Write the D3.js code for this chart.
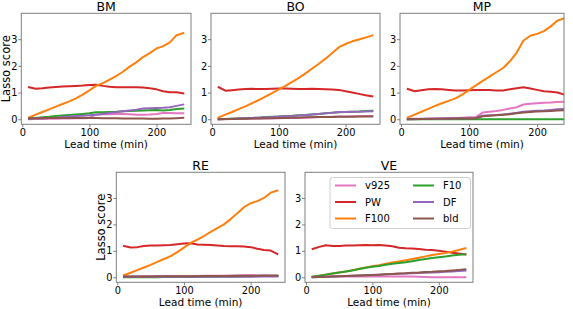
<!DOCTYPE html>
<html><head><meta charset="utf-8">
<script src="https://cdn.jsdelivr.net/npm/d3@7"></script>
<style>body{margin:0;background:#fff}svg{display:block}text{font-family:"DejaVu Sans",sans-serif}</style>
</head><body><svg id="c" width="573" height="309"></svg>
<script>
const leadTimes = [10,20,30,40,50,60,70,80,90,100,110,120,130,140,150,160,170,180,190,200,210,220,230,240];
const seriesNames = ["v925","PW","F100","F10","DF","bld"];
const seriesColors = ["#e377c2","#d62728","#ff7f0e","#2ca02c","#9467bd","#8c564b"];
const panelNames = ["BM","BO","MP","RE","VE"];
const xTicks = [0,100,200];
const yTicks = [0,1,2,3];

const BM_v925 = [0.00,0.01,0.01,0.02,0.02,0.03,0.03,0.04,0.04,0.05,0.18,0.19,0.19,0.20,0.20,0.19,0.17,0.17,0.18,0.20,0.23,0.23,0.22,0.22];
const BM_PW   = [1.20,1.14,1.16,1.19,1.21,1.23,1.24,1.25,1.26,1.28,1.29,1.25,1.22,1.20,1.20,1.20,1.20,1.19,1.16,1.12,1.05,1.01,1.01,0.97];
const BM_F100 = [0.07,0.17,0.27,0.37,0.47,0.57,0.67,0.78,0.92,1.08,1.25,1.35,1.48,1.62,1.78,1.97,2.13,2.33,2.48,2.65,2.74,2.88,3.15,3.23];
const BM_F10  = [0.03,0.05,0.07,0.09,0.12,0.14,0.16,0.18,0.20,0.22,0.26,0.26,0.27,0.28,0.30,0.31,0.32,0.33,0.34,0.35,0.33,0.35,0.38,0.40];
const BM_DF   = [0.02,0.03,0.04,0.05,0.06,0.08,0.10,0.12,0.13,0.15,0.17,0.20,0.23,0.26,0.30,0.33,0.36,0.40,0.41,0.42,0.43,0.45,0.50,0.55];
const BM_bld  = [0.03,0.04,0.04,0.05,0.05,0.05,0.05,0.05,0.05,0.05,0.05,0.04,0.04,0.04,0.03,0.03,0.03,0.03,0.02,0.02,0.03,0.03,0.04,0.05];

const BO_v925 = [0.00,0.00,0.01,0.01,0.02,0.02,0.03,0.03,0.04,0.04,0.05,0.05,0.06,0.06,0.07,0.08,0.08,0.09,0.10,0.10,0.11,0.11,0.12,0.12];
const BO_PW   = [1.20,1.07,1.09,1.11,1.13,1.14,1.13,1.13,1.14,1.15,1.15,1.14,1.13,1.13,1.14,1.13,1.12,1.11,1.10,1.05,1.00,0.95,0.90,0.86];
const BO_F100 = [0.07,0.17,0.27,0.38,0.48,0.60,0.72,0.85,0.98,1.12,1.25,1.40,1.55,1.72,1.90,2.08,2.27,2.48,2.70,2.82,2.92,2.99,3.06,3.14];
const BO_F10  = [0.00,0.01,0.02,0.03,0.04,0.05,0.06,0.08,0.09,0.10,0.12,0.13,0.15,0.16,0.18,0.20,0.22,0.24,0.26,0.27,0.28,0.29,0.31,0.32];
const BO_DF   = [0.00,0.01,0.02,0.03,0.04,0.05,0.06,0.07,0.08,0.10,0.11,0.12,0.14,0.16,0.18,0.20,0.22,0.24,0.27,0.27,0.28,0.28,0.29,0.30];
const BO_bld  = [0.00,0.01,0.01,0.02,0.02,0.03,0.03,0.04,0.04,0.05,0.05,0.06,0.06,0.07,0.07,0.08,0.08,0.08,0.09,0.09,0.09,0.10,0.10,0.10];

const MP_v925 = [0.01,0.02,0.02,0.03,0.03,0.04,0.05,0.05,0.06,0.07,0.08,0.25,0.28,0.31,0.35,0.40,0.45,0.55,0.58,0.60,0.62,0.63,0.65,0.66];
const MP_PW   = [1.13,1.05,1.09,1.12,1.13,1.12,1.10,1.08,1.08,1.09,1.10,1.10,1.10,1.08,1.08,1.12,1.16,1.20,1.15,1.10,1.05,1.03,1.00,0.92];
const MP_F100 = [0.07,0.17,0.28,0.39,0.50,0.60,0.69,0.78,0.92,1.10,1.27,1.44,1.60,1.76,1.92,2.17,2.50,2.95,3.13,3.20,3.30,3.48,3.70,3.78];
const MP_F10  = [0.00,0.00,0.00,0.00,0.00,0.00,0.00,0.00,0.00,0.00,0.00,0.00,0.00,0.00,0.00,0.00,0.00,0.00,0.00,0.00,0.00,0.00,0.00,0.00];
const MP_DF   = [0.00,0.01,0.01,0.02,0.02,0.02,0.03,0.03,0.04,0.04,0.05,0.13,0.15,0.16,0.18,0.21,0.24,0.28,0.30,0.32,0.33,0.35,0.37,0.38];
const MP_bld  = [0.00,0.00,0.01,0.01,0.02,0.02,0.02,0.03,0.03,0.03,0.04,0.11,0.13,0.15,0.17,0.19,0.22,0.25,0.27,0.29,0.30,0.31,0.33,0.34];

const RE_v925 = [0.03,0.03,0.03,0.04,0.04,0.04,0.04,0.05,0.05,0.05,0.05,0.05,0.06,0.06,0.06,0.06,0.07,0.07,0.08,0.08,0.07,0.07,0.06,0.06];
const RE_PW   = [1.18,1.13,1.14,1.18,1.20,1.20,1.21,1.22,1.25,1.28,1.29,1.24,1.23,1.22,1.20,1.18,1.17,1.17,1.16,1.14,1.08,1.03,1.01,0.88];
const RE_F100 = [0.08,0.17,0.27,0.37,0.47,0.58,0.69,0.80,0.95,1.12,1.30,1.42,1.56,1.72,1.86,2.00,2.20,2.42,2.65,2.80,2.88,3.00,3.20,3.28];
const RE_F10  = [0.00,0.00,0.00,0.00,0.00,0.00,0.01,0.01,0.01,0.01,0.01,0.02,0.02,0.02,0.02,0.03,0.03,0.03,0.04,0.04,0.04,0.05,0.05,0.05];
const RE_DF   = [0.02,0.02,0.02,0.02,0.02,0.02,0.02,0.02,0.02,0.02,0.02,0.02,0.02,0.02,0.02,0.02,0.02,0.02,0.02,0.02,0.03,0.03,0.03,0.03];
const RE_bld  = [0.03,0.03,0.03,0.03,0.03,0.04,0.04,0.04,0.04,0.04,0.04,0.04,0.05,0.05,0.05,0.05,0.05,0.06,0.06,0.06,0.06,0.07,0.07,0.07];

const VE_v925 = [0.02,0.02,0.02,0.03,0.03,0.03,0.03,0.03,0.03,0.03,0.03,0.03,0.03,0.03,0.03,0.03,0.02,0.01,0.00,0.00,0.00,0.00,0.00,0.00];
const VE_PW   = [1.07,1.15,1.21,1.18,1.18,1.20,1.20,1.21,1.22,1.21,1.22,1.20,1.17,1.12,1.10,1.09,1.07,1.04,1.03,1.00,0.97,0.93,0.90,0.87];
const VE_F100 = [0.02,0.06,0.10,0.14,0.18,0.22,0.27,0.32,0.37,0.42,0.46,0.51,0.56,0.60,0.64,0.69,0.74,0.79,0.84,0.88,0.92,0.97,1.03,1.10];
const VE_F10  = [0.02,0.06,0.10,0.14,0.18,0.22,0.26,0.31,0.36,0.40,0.43,0.47,0.51,0.54,0.57,0.61,0.65,0.69,0.73,0.76,0.79,0.82,0.85,0.87];
const VE_DF   = [0.00,0.01,0.02,0.03,0.04,0.05,0.06,0.07,0.08,0.09,0.10,0.11,0.12,0.13,0.14,0.15,0.16,0.17,0.18,0.19,0.21,0.22,0.24,0.25];
const VE_bld  = [0.00,0.01,0.02,0.03,0.04,0.05,0.06,0.07,0.08,0.09,0.10,0.11,0.12,0.14,0.15,0.17,0.18,0.20,0.21,0.23,0.24,0.26,0.28,0.30];

const panelData = {
  BM:[BM_v925,BM_PW,BM_F100,BM_F10,BM_DF,BM_bld],
  BO:[BO_v925,BO_PW,BO_F100,BO_F10,BO_DF,BO_bld],
  MP:[MP_v925,MP_PW,MP_F100,MP_F10,MP_DF,MP_bld],
  RE:[RE_v925,RE_PW,RE_F100,RE_F10,RE_DF,RE_bld],
  VE:[VE_v925,VE_PW,VE_F100,VE_F10,VE_DF,VE_bld]
};

const layout = {
  BM:{x0:21.3,x1:191,y0:13.3,y1:124.3,xmax:251.5,ylabel:true},
  BO:{x0:211,x1:380,y0:13.3,y1:124.3,xmax:251.5,ylabel:false},
  MP:{x0:400,x1:564,y0:13.3,y1:124.3,xmax:239.5,ylabel:false},
  RE:{x0:116.3,x1:285,y0:172.3,y1:282.3,xmax:251.5,ylabel:true},
  VE:{x0:305,x1:473,y0:172.3,y1:282.3,xmax:251.5,ylabel:false}
};

const svg = d3.select("#c");
const spineColor = "#7f7f7f";

panelNames.forEach(name => {
  const L = layout[name];
  const x = d3.scaleLinear().domain([-1.5, L.xmax]).range([L.x0, L.x1]);
  const y = d3.scaleLinear().domain([-0.19, 3.97]).range([L.y1, L.y0]);
  const g = svg.append("g");

  const clipId = "clip"+name;
  g.append("clipPath").attr("id",clipId).append("rect")
    .attr("x",L.x0).attr("y",L.y0).attr("width",L.x1-L.x0).attr("height",L.y1-L.y0);

  const line = d3.line().x((d,i)=>x(leadTimes[i])).y(d=>y(d));
  const lg = g.append("g").attr("clip-path",`url(#${clipId})`);
  panelData[name].forEach((vals,si)=>{
    lg.append("path").datum(vals).attr("d",line)
      .attr("fill","none").attr("stroke",seriesColors[si])
      .attr("stroke-width",2).attr("stroke-linejoin","round").attr("stroke-linecap","square");
  });

  const xa = g.append("g").attr("transform",`translate(0,${L.y1})`)
    .call(d3.axisBottom(x).tickValues(xTicks).tickSize(3).tickPadding(1.5).tickFormat(d3.format("d")));
  const ya = g.append("g").attr("transform",`translate(${L.x0},0)`)
    .call(d3.axisLeft(y).tickValues(yTicks).tickSize(3).tickPadding(0.8).tickFormat(d3.format("d")));
  [xa,ya].forEach(a=>{
    a.select(".domain").remove();
    a.selectAll("line").attr("stroke",spineColor);
    a.selectAll("text").attr("font-size","9.8px").attr("fill","#000")
      .attr("font-family","DejaVu Sans");
  });

  g.append("rect").attr("x",L.x0).attr("y",L.y0).attr("width",L.x1-L.x0).attr("height",L.y1-L.y0)
    .attr("fill","none").attr("stroke",spineColor).attr("stroke-width",1);

  g.append("text").attr("x",(L.x0+L.x1)/2).attr("y",L.y0-2.5).attr("text-anchor","middle")
    .attr("font-size","12.5px").text(name);
  g.append("text").attr("x",(L.x0+L.x1)/2).attr("y",L.y1+23.5).attr("text-anchor","middle")
    .attr("font-size","10.5px").text("Lead time (min)");
  if (L.ylabel) {
    g.append("text").attr("transform",`translate(${L.x0-11.2},${(L.y0+L.y1)/2}) rotate(-90)`)
      .attr("text-anchor","middle").attr("font-size","11.5px").text("Lasso score");
  }

  if (name === "VE") {
    const lgd = g.append("g");
    lgd.append("rect").attr("x",330).attr("y",177.5).attr("width",140.5).attr("height",51)
      .attr("rx",2.5).attr("fill","#fff").attr("fill-opacity",0.8).attr("stroke","#d0d0d0");
    seriesNames.forEach((s,i)=>{
      const col = Math.floor(i/3), row = i%3;
      const lx = col===0 ? 335 : 413, ly = 185.5 + row*16.5;
      lgd.append("line").attr("x1",lx).attr("x2",lx+21).attr("y1",ly).attr("y2",ly)
        .attr("stroke",seriesColors[i]).attr("stroke-width",2);
      lgd.append("text").attr("x",lx+30).attr("y",ly+3.5).attr("font-size","10px").text(s);
    });
  }
});
</script>
</body></html>
